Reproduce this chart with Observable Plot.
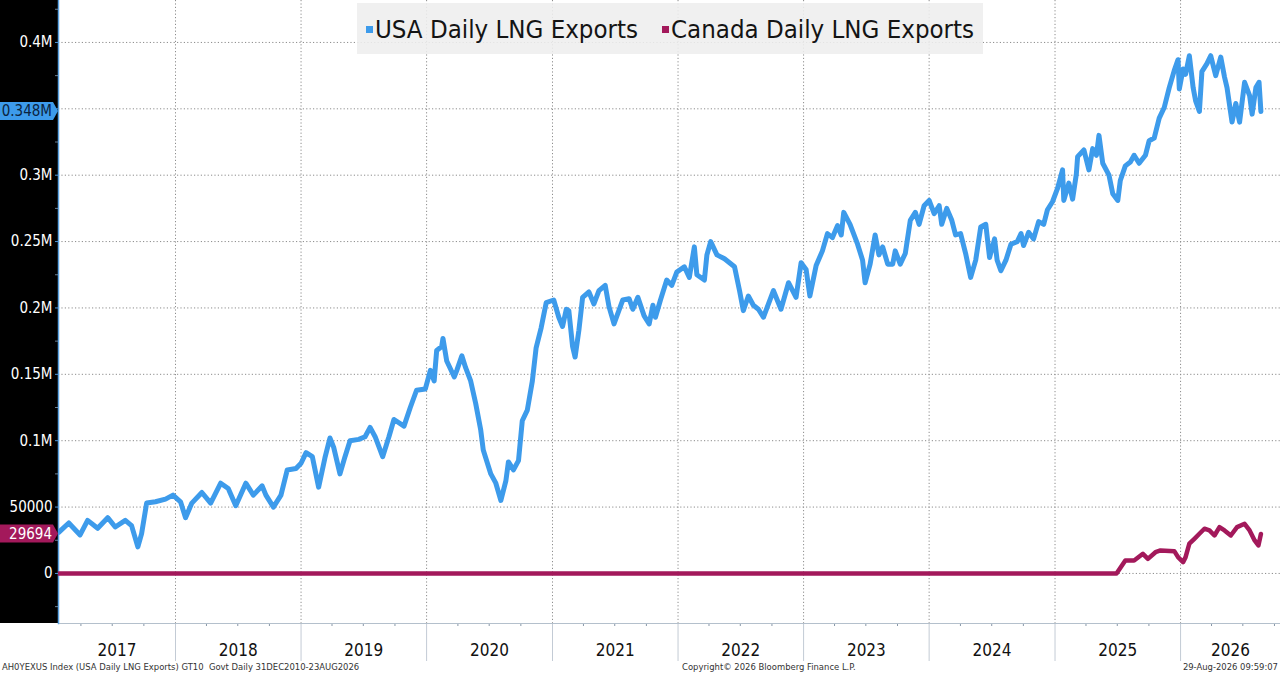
<!DOCTYPE html>
<html>
<head>
<meta charset="utf-8">
<script src="https://cdn.jsdelivr.net/npm/d3@7"></script>
<script src="https://cdn.jsdelivr.net/npm/@observablehq/plot@0.6"></script>
<style>
  body { margin: 0; background: #fff; }
  #wrap { position: relative; width: 1280px; height: 675px; overflow: hidden; background: #fff;
          font-family: "DejaVu Sans Condensed", "DejaVu Sans", sans-serif; }
  #panel { position: absolute; left: 0; top: 0; width: 58px; height: 623px; background: #000; }
  #chart { position: absolute; left: 0; top: 0; }
  #legend { position: absolute; left: 357px; top: 3px; width: 626px; height: 51px;
            background: rgba(238,238,238,0.88); display: flex; align-items: center; justify-content: center;
            font-size: 25.6px; color: #141414; gap: 24px; white-space: nowrap; }
  #legend .sw { display: inline-block; width: 7px; height: 7px; margin-right: 2px; vertical-align: 5px; }
  .foot { position: absolute; top: 661px; font-size: 9.4px; color: #333; white-space: nowrap; }
</style>
</head>
<body>
<div id="wrap">
  <div id="panel"></div>
  <div id="chart"></div>
  <div id="legend"></div>
  <div class="foot" style="left:2px">AH0YEXUS Index (USA Daily LNG Exports) GT10&nbsp; Govt Daily 31DEC2010-23AUG2026</div>
  <div class="foot" style="left:682px">Copyright© 2026 Bloomberg Finance L.P.</div>
  <div class="foot" style="right:2px">29-Aug-2026 09:59:07</div>
</div>
<script>
// ---- data (decimal year, value) ----
const seriesNames = ["USA Daily LNG Exports", "Canada Daily LNG Exports"];
const seriesColors = ["#3d9beb", "#a3195b"];

const usaSeries = [
  [2017.07,31000],[2017.15,38000],[2017.24,29000],[2017.30,40000],[2017.38,34000],[2017.46,42000],
  [2017.52,35000],[2017.60,40000],[2017.65,36000],[2017.70,20000],[2017.73,30000],[2017.77,53000],
  [2017.84,54000],[2017.92,56000],[2017.98,59000],[2018.04,54000],[2018.08,42000],[2018.13,53000],
  [2018.21,61000],[2018.28,53000],[2018.36,68000],[2018.42,64000],[2018.48,51000],[2018.56,68000],
  [2018.62,59000],[2018.69,66000],[2018.72,59000],[2018.78,50000],[2018.84,59000],[2018.89,78000],
  [2018.96,79000],[2019.00,83000],[2019.04,91000],[2019.09,88000],[2019.14,65000],[2019.19,87000],
  [2019.23,102000],[2019.26,95000],[2019.31,75000],[2019.35,88000],[2019.39,100000],[2019.46,101000],
  [2019.51,103000],[2019.55,110000],[2019.59,103000],[2019.65,88000],[2019.70,103000],[2019.74,116000],
  [2019.82,111000],[2019.87,125000],[2019.92,138000],[2019.99,139000],[2020.03,153000],[2020.06,145000],
  [2020.08,168000],[2020.12,171000],[2020.13,177000],[2020.16,160000],[2020.22,148000],[2020.24,153000],
  [2020.28,164000],[2020.31,155000],[2020.35,145000],[2020.39,128000],[2020.43,108000],[2020.45,93000],
  [2020.51,75000],[2020.55,68000],[2020.59,55000],[2020.63,70000],[2020.65,84000],[2020.69,78000],
  [2020.73,85000],[2020.76,115000],[2020.80,123000],[2020.84,145000],[2020.87,170000],[2020.91,185000],
  [2020.95,204000],[2021.01,206000],[2021.05,193000],[2021.08,186000],[2021.11,199000],[2021.13,198000],
  [2021.16,171000],[2021.18,163000],[2021.21,183000],[2021.24,208000],[2021.29,212000],[2021.33,203000],
  [2021.37,213000],[2021.42,217000],[2021.45,201000],[2021.49,188000],[2021.56,206000],[2021.61,207000],
  [2021.64,199000],[2021.68,208000],[2021.73,194000],[2021.77,188000],[2021.80,202000],[2021.82,193000],
  [2021.86,206000],[2021.91,221000],[2021.95,217000],[2021.99,227000],[2022.05,231000],[2022.09,223000],
  [2022.13,246000],[2022.15,225000],[2022.21,221000],[2022.23,240000],[2022.26,250000],[2022.31,240000],
  [2022.37,237000],[2022.45,231000],[2022.49,213000],[2022.52,198000],[2022.56,209000],[2022.60,202000],
  [2022.64,199000],[2022.68,193000],[2022.76,213000],[2022.82,199000],[2022.88,219000],[2022.94,208000],
  [2022.98,234000],[2023.02,229000],[2023.05,209000],[2023.10,232000],[2023.15,243000],[2023.19,256000],
  [2023.23,253000],[2023.27,262000],[2023.30,255000],[2023.32,272000],[2023.37,263000],[2023.43,248000],
  [2023.47,236000],[2023.49,219000],[2023.53,233000],[2023.57,255000],[2023.60,240000],[2023.63,246000],
  [2023.67,233000],[2023.71,233000],[2023.73,243000],[2023.77,233000],[2023.81,241000],[2023.85,266000],
  [2023.89,272000],[2023.92,263000],[2023.96,277000],[2024.00,281000],[2024.04,271000],[2024.08,277000],
  [2024.10,263000],[2024.14,275000],[2024.18,266000],[2024.21,255000],[2024.25,256000],[2024.29,241000],
  [2024.33,223000],[2024.37,236000],[2024.41,261000],[2024.45,263000],[2024.48,238000],[2024.52,252000],
  [2024.54,236000],[2024.57,228000],[2024.61,236000],[2024.65,248000],[2024.70,250000],[2024.73,256000],
  [2024.75,247000],[2024.79,257000],[2024.83,252000],[2024.87,265000],[2024.91,263000],[2024.94,274000],
  [2024.98,280000],[2025.02,290000],[2025.06,304000],[2025.07,281000],[2025.11,294000],[2025.14,282000],
  [2025.17,301000],[2025.18,314000],[2025.23,319000],[2025.27,304000],[2025.30,320000],[2025.33,315000],
  [2025.35,330000],[2025.38,309000],[2025.43,300000],[2025.46,286000],[2025.50,281000],[2025.52,296000],
  [2025.56,307000],[2025.60,310000],[2025.63,315000],[2025.67,309000],[2025.72,315000],[2025.75,326000],
  [2025.79,328000],[2025.83,343000],[2025.87,351000],[2025.91,366000],[2025.95,379000],[2025.98,387000],
  [2025.99,365000],[2026.02,380000],[2026.04,376000],[2026.07,390000],[2026.10,366000],[2026.12,356000],
  [2026.15,348000],[2026.17,378000],[2026.21,384000],[2026.24,390000],[2026.28,375000],[2026.32,389000],
  [2026.35,374000],[2026.37,366000],[2026.41,340000],[2026.44,354000],[2026.47,340000],[2026.51,370000],
  [2026.55,360000],[2026.57,346000],[2026.60,366000],[2026.625,370000],[2026.64,348000]
];

const canadaSeries = [
  [2017.07,0],[2025.49,0],[2025.56,9800],[2025.63,9800],[2025.70,14800],[2025.74,11000],
  [2025.80,16000],[2025.84,17300],[2025.95,16800],[2025.98,12300],[2026.02,8500],[2026.04,12300],
  [2026.07,22400],[2026.11,26100],[2026.15,29900],[2026.19,33700],[2026.23,32400],[2026.27,28600],
  [2026.31,34900],[2026.35,32400],[2026.40,28600],[2026.45,34900],[2026.51,37400],[2026.55,32400],
  [2026.59,24900],[2026.62,21100],[2026.64,29694]
];

const yearLabels = [2017, 2018, 2019, 2020, 2021, 2022, 2023, 2024, 2025, 2026];
const yLabelTicks = [0, 50000, 100000, 150000, 200000, 250000, 300000, 400000];
const yGridTicks = [0, 50000, 100000, 150000, 200000, 250000, 300000, 350000, 400000];
const yMinorTicks = [-25000, 25000, 75000, 125000, 175000, 225000, 275000, 325000, 375000, 425000];
const xDomainYears = [2017.068, 2026.796];
const yDomain = [-37700, 431600];

// ---- helpers ----
function dec(y) {
  const yr = Math.floor(y);
  const s = Date.UTC(yr, 0, 1), e = Date.UTC(yr + 1, 0, 1);
  return new Date(s + (y - yr) * (e - s));
}
const xDomain = xDomainYears.map(dec);
const usa = usaSeries.map(([t, v]) => ({date: dec(t), value: v}));
const canada = canadaSeries.map(([t, v]) => ({date: dec(t), value: v}));

const yearStarts = yearLabels.slice(1).map(y => new Date(Date.UTC(y, 0, 1)));
const quarterStarts = [];
for (const y of yearLabels) for (const m of [3, 6, 9]) {
  const d = new Date(Date.UTC(y, m, 1));
  if (d > xDomain[0] && d < xDomain[1]) quarterStarts.push(d);
}
const yearMids = yearLabels.map(y => {
  const a = Math.max(+new Date(Date.UTC(y, 0, 1)), +xDomain[0]);
  const b = Math.min(+new Date(Date.UTC(y + 1, 0, 1)), +xDomain[1]);
  return new Date((a + b) / 2);
});
const fmtY = v => v === 0 ? "0" : v === 50000 ? "50000" : (v / 1e6) + "M";

const font = '"DejaVu Sans Condensed", "DejaVu Sans", sans-serif';

const plot = Plot.plot({
  width: 1280,
  height: 675,
  marginLeft: 58,
  marginRight: 0,
  marginTop: 0,
  marginBottom: 52,
  style: {background: "transparent", fontFamily: font, overflow: "visible"},
  x: {type: "utc", domain: xDomain, label: null},
  y: {domain: yDomain, label: null},
  marks: [
    Plot.gridY(yGridTicks, {stroke: "#8c8c8c", strokeOpacity: 1, strokeDasharray: "1.2,2.2"}),
    Plot.gridX(yearStarts, {stroke: "#8c8c8c", strokeOpacity: 1, strokeDasharray: "1.2,2.2"}),
    // y axis: labels in the black panel, short tick marks
    Plot.axisY(yLabelTicks, {label: null, tickSize: 0, tickPadding: 6, tickFormat: fmtY, fill: "white", color: "white", fontSize: 15}),
    Plot.axisY(yGridTicks, {label: null, tickSize: 3, tickFormat: () => "", color: "#4d94da"}),
    Plot.axisY(yMinorTicks, {label: null, tickSize: 3, tickFormat: () => "", color: "#6d7f92"}),
    // x axis: quarter ticks, year separators, centered year labels
    Plot.axisX(quarterStarts, {label: null, tickSize: 3, tickFormat: () => "", color: "#8797a8"}),
    Plot.axisX(yearStarts, {label: null, tickSize: 38, tickFormat: () => "", color: "#c3cbd5"}),
    Plot.axisX(yearMids, {label: null, tickSize: 0, tickPadding: 20, fontSize: 17, color: "#111",
      tickFormat: (d, i) => String(yearLabels[i])}),
    Plot.frame({anchor: "bottom", stroke: "#b4c0cc"}),
    Plot.frame({anchor: "left", stroke: "#5aa2e2", strokeWidth: 1.5}),
    // data
    Plot.line(canada, {x: "date", y: "value", stroke: seriesColors[1], strokeWidth: 4.5, clip: true}),
    Plot.line(usa, {x: "date", y: "value", stroke: seriesColors[0], strokeWidth: 5, clip: true})
  ]
});

document.getElementById("chart").appendChild(plot);

// last-value tags on the left panel, placed through the plot's y scale
const yScale = plot.scale("y");
const svg = d3.select(plot);
function tag(value, label, bg, fg) {
  const yy = yScale.apply(value);
  svg.append("path")
    .attr("d", `M0,${yy - 9}H53L58,${yy}L53,${yy + 9}H0Z`)
    .attr("fill", bg);
  svg.append("text")
    .attr("x", 52).attr("y", yy).attr("dy", "0.36em")
    .attr("text-anchor", "end")
    .attr("font-size", 15).attr("font-family", font)
    .attr("fill", fg)
    .text(label);
}
const lastUsa = usa[usa.length - 1].value;
const lastCan = canada[canada.length - 1].value;
tag(lastUsa, (lastUsa / 1e6).toFixed(3) + "M", "#3d9beb", "#0b2340");
tag(lastCan, String(lastCan), "#a3195b", "#ffffff");

// legend
const legend = d3.select("#legend");
seriesNames.forEach((name, i) => {
  const item = legend.append("span");
  item.append("span").attr("class", "sw").style("background", seriesColors[i]);
  item.append("span").text(name);
});
</script>
</body>
</html>
